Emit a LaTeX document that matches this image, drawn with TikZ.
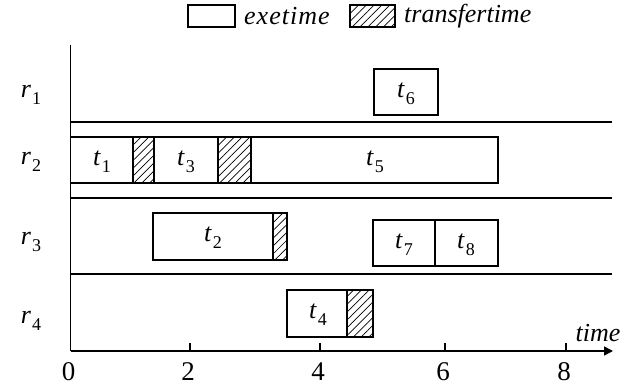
\documentclass[tikz,border=0pt]{standalone}
\usepackage{fontspec}
\setmainfont{Liberation Serif}
\usetikzlibrary{patterns.meta,arrows.meta}
% italic letter with an upright, lowered index
\newcommand\sbx[2]{\textit{#1}\kern1pt\raisebox{-0.28em}{\fontsize{18}{20}\selectfont #2}}
\newcommand\tk[1]{\sbx{t}{#1}}
\newcommand\rs[1]{\sbx{r}{#1}}
\begin{document}
\begin{tikzpicture}[x=1pt,y=-1pt,
  every node/.style={font=\fontsize{26}{30}\selectfont, inner sep=0pt},
  exe/.style={draw, line width=1.3pt, fill=white},
  xfer/.style={draw, line width=1.3pt, pattern={Lines[angle=45,distance=5.5pt,line width=0.7pt]}},
  rowline/.style={line width=1.3pt},
  axisline/.style={line width=1.6pt}]
\useasboundingbox (0,0) rectangle (641,387);

% legend
\draw[exe] (188,5) rectangle (235,27);
\node[anchor=west] (lexe) at (244,16) {\textit{e\kern1pt x\kern1pt e\kern1pt t\kern1pt i\kern1pt m\kern1pt e}};
\draw[xfer] (350,5) rectangle (395,27);
\node[anchor=west] (lxfer) at (404,16) {\textit{transfertime}};

% axes
\coordinate (o) at (70.5,351);
\coordinate (ytop) at (70.5,45);
\coordinate (xend) at (613,351);
\draw[axisline] (ytop) -- (o);
\draw[axisline, -{Triangle[length=9pt,width=9pt]}] (o) -- (xend);
\node (timelbl) at (598,333) {\textit{time}};

% ticks and numbers
\foreach \px/\lab in {70.5/0, 190/2, 320/4, 445/6, 566/8}{
  \ifnum\lab>0 \draw[line width=1.2pt] (\px,343) -- (\px,351); \fi
  \node[font=\fontsize{27}{30}\selectfont] (n\lab) at (\px-2,372) {\lab};
}

% row separators
\foreach \yy in {122,198,274}
  \draw[rowline] (70.5,\yy) -- (612,\yy);

% resource labels
\node (r1) at (31,95) {\rs{1}};
\node (r2) at (31,162) {\rs{2}};
\node (r3) at (31,242) {\rs{3}};
\node (r4) at (31,321) {\rs{4}};

% r1
\draw[exe] (374,69) rectangle (438,115);
\node (t6) at (406,94) {\tk{6}};

% r2
\draw[exe] (70.5,137) rectangle (133,183);
\node (t1) at (102,162) {\tk{1}};
\draw[xfer] (133,137) rectangle (154,183);
\draw[exe] (154,137) rectangle (218,183);
\node (t3) at (186,162) {\tk{3}};
\draw[xfer] (218,137) rectangle (251,183);
\draw[exe] (251,137) rectangle (498,183);
\node (t5) at (375,162) {\tk{5}};

% r3
\draw[exe] (153,213) rectangle (273,260);
\node (t2) at (213,238) {\tk{2}};
\draw[xfer] (273,213) rectangle (287,260);
\draw[exe] (373,220) rectangle (435,266);
\node (t7) at (404,245) {\tk{7}};
\draw[exe] (435,220) rectangle (498,266);
\node (t8) at (466,245) {\tk{8}};

% r4
\draw[exe] (287,290) rectangle (347,337);
\node (t4) at (318,315) {\tk{4}};
\draw[xfer] (347,290) rectangle (373,337);
\end{tikzpicture}
\end{document}
